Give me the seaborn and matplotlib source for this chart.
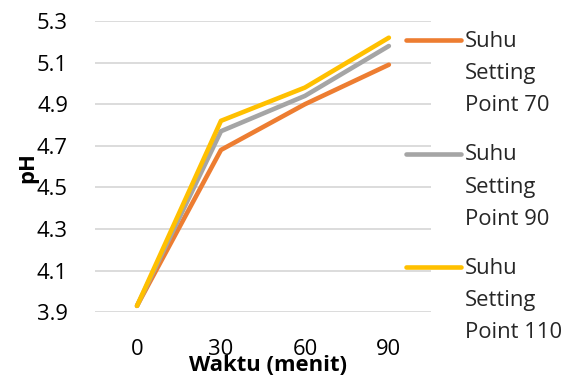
import numpy as np
import pandas as pd
import matplotlib
matplotlib.use("Agg")
import matplotlib.pyplot as plt
import seaborn as sns
from matplotlib.lines import Line2D
from matplotlib.legend_handler import HandlerLine2D

# Sampling times (minutes) and measured pH for each temperature set point
waktu = ["0", "30", "60", "90"]
seri = ["Suhu\nSetting\nPoint 70", "Suhu\nSetting\nPoint 90", "Suhu\nSetting\nPoint 110"]
ph_70 = [3.93, 4.68, 4.90, 5.09]
ph_90 = [3.93, 4.77, 4.94, 5.18]
ph_110 = [3.93, 4.82, 4.98, 5.22]
y_ticks = [3.9, 4.1, 4.3, 4.5, 4.7, 4.9, 5.1, 5.3]
warna = ["#ED7D31", "#A5A5A5", "#FFC000"]

df = pd.DataFrame({
    "Waktu": waktu * 3,
    "pH": ph_70 + ph_90 + ph_110,
    "Seri": [s for s in seri for _ in waktu],
})

sns.set_theme(style="white")
plt.rcParams["font.family"] = ["Open Sans", "DejaVu Sans"]
FS = 15.8

fig = plt.figure(figsize=(5.76, 3.76), dpi=100)
ax = fig.add_axes([0.165, 0.170, 0.583, 0.774])

sns.lineplot(data=df, x="Waktu", y="pH", hue="Seri", hue_order=seri,
             palette=warna, linewidth=3.3, sort=False, ax=ax,
             solid_capstyle="round", solid_joinstyle="round")

ax.set_xlim(-0.5, 3.5)
ax.set_ylim(3.9, 5.3)
ax.set_yticks(y_ticks)
ax.set_yticklabels([f"{v:.1f}" for v in y_ticks])
ax.yaxis.grid(True, color="#D9D9D9", linewidth=1.3)
ax.xaxis.grid(False)
ax.set_axisbelow(True)
for s in ax.spines.values():
    s.set_visible(False)
ax.tick_params(axis="y", length=0, pad=19.5, labelsize=FS, colors="#000000")
ax.tick_params(axis="x", length=0, pad=19.5, labelsize=FS, colors="#000000")

ax.set_ylabel("pH", fontsize=FS, fontweight="bold", color="black")
ax.yaxis.label.set_va("center")
ax.yaxis.set_label_coords(-0.199, 0.495)
ax.set_xlabel("Waktu (menit)", fontsize=FS, fontweight="bold", color="black")
ax.xaxis.label.set_va("center")
ax.xaxis.set_label_coords(0.515, -0.185)


class FirstLineHandler(HandlerLine2D):
    """Legend line aligned with the first line of a multi-line label."""
    def __init__(self, shift, **kw):
        super().__init__(**kw)
        self.shift = shift

    def create_artists(self, legend, orig_handle, xdescent, ydescent,
                       width, height, fontsize, trans):
        arts = super().create_artists(legend, orig_handle, xdescent, ydescent,
                                      width, height, fontsize, trans)
        for a in arts:
            a.set_ydata(np.asarray(a.get_ydata()) + self.shift)
            a.set_solid_capstyle("round")
        return arts


handles, labels = ax.get_legend_handles_labels()
ax.legend(handles, labels, loc="upper left",
          bbox_to_anchor=(406 / 576, 1 - 31 / 376), bbox_transform=fig.transFigure,
          frameon=False, fontsize=FS, handlelength=2.5, handletextpad=0.2,
          labelspacing=1.28, borderpad=0, borderaxespad=0,
          handler_map={Line2D: FirstLineHandler(24.2)})
for t in ax.get_legend().get_texts():
    t.set_linespacing(1.7)

fig.savefig("out.png", dpi=100)
